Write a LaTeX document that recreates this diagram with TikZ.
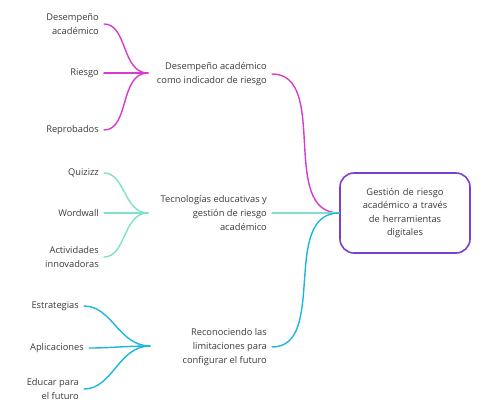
\documentclass[tikz,border=0pt]{standalone}
\usepackage{fontspec}
\setmainfont{Open Sans}
\usepackage{tikz}
\usetikzlibrary{positioning}
\definecolor{ramaA}{HTML}{D63AD0}
\definecolor{ramaB}{HTML}{7FE0CC}
\definecolor{ramaC}{HTML}{1CB6DF}
\definecolor{marco}{HTML}{7A3FCF}
\definecolor{texto}{HTML}{3A3A3A}

\begin{document}
\begin{tikzpicture}[x=1pt, y=-1pt, every node/.style={font=\fontsize{9.3}{13.6}\selectfont, text=texto}, hoja/.style={anchor=east, align=right, inner sep=2pt}, tema/.style={anchor=east, align=right, inner sep=2pt}, rama/.style={line width=1.4pt, line cap=round}]
	\useasboundingbox (0,0) rectangle (484,408);
	\node[draw=marco, line width=1.6pt, rounded corners=14pt, minimum width=130pt, minimum height=80pt, align=center, text width=112pt] (central) at (405,213) {Gestión de riesgo\\académico a través\\de herramientas\\digitales};
	% rama 1
	\node[tema] (temaA) at (269,74) {Desempeño académico\\como indicador de riesgo};
	\coordinate (nudoA) at (148,73);
	\node[hoja] (hojaA1) at (101,24) {Desempeño\\académico};
	\node[hoja] (hojaA2) at (101,73) {Riesgo};
	\node[hoja] (hojaA3) at (101,130) {Reprobados};
	% rama 2
	\node[tema] (temaB) at (269,213) {Tecnologías educativas y\\gestión de riesgo\\académico};
	\coordinate (nudoB) at (148,213);
	\node[hoja] (hojaB1) at (101,173) {Quizizz};
	\node[hoja] (hojaB2) at (101,213) {Wordwall};
	\node[hoja] (hojaB3) at (101,257) {Actividades\\innovadoras};
	% rama 3
	\node[tema] (temaC) at (269,347) {Reconociendo las\\limitaciones para\\configurar el futuro};
	\coordinate (nudoC) at (150,346);
	\node[hoja] (hojaC1) at (81,306) {Estrategias};
	\node[hoja] (hojaC2) at (86,348) {Aplicaciones};
	\node[hoja] (hojaC3) at (81,389) {Educar para\\el futuro};
	% conectores
	\foreach \r in {A,B,C} {
		\foreach \h in {1,2,3}
			\draw[rama, rama\r, shorten <=3pt] (hoja\r\h.east) to[out=0, in=180] (nudo\r);
		\draw[rama, rama\r, shorten <=3pt] (tema\r.east) to[out=0, in=180] (central.west);
	}
\end{tikzpicture}
\end{document}
